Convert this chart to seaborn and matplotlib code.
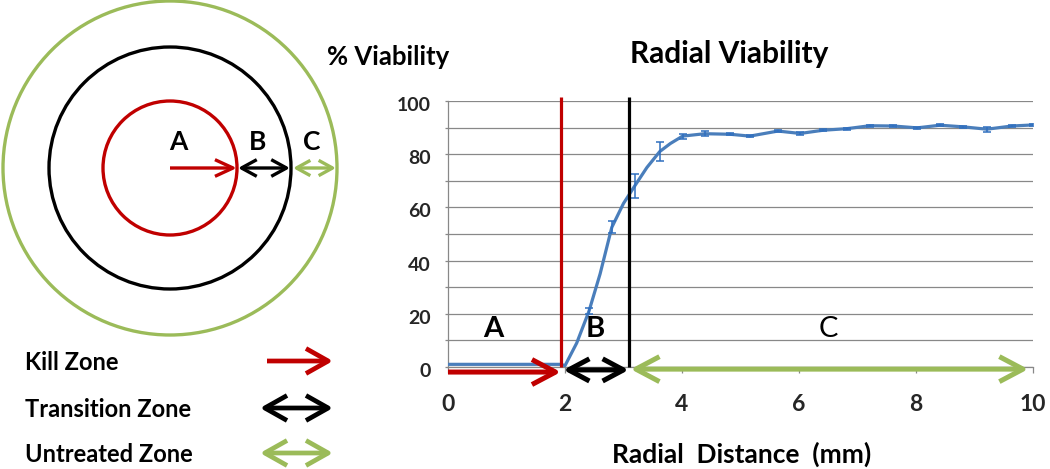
import numpy as np
import matplotlib
import matplotlib.pyplot as plt
import matplotlib.transforms as mtransforms
from matplotlib.patches import Circle, FancyArrowPatch
from matplotlib.ticker import MultipleLocator
import seaborn as sns

matplotlib.use('Agg')

# viability profile (mm, %)
radius_mm = [0.0, 1.93, 2.0, 2.2, 2.41, 2.6, 2.80, 3.0, 3.19, 3.4, 3.62, 3.8,
             4.01, 4.39, 4.82, 5.16, 5.64, 6.02, 6.41, 6.82, 7.21, 7.61,
             8.02, 8.41, 8.8, 9.21, 9.64, 10.0]
viability = [1.0, 1.0, 0.5, 9.0, 21.0, 35.0, 52.5, 61.5, 68.0, 75.0, 81.0, 84.0,
             86.8, 87.7, 87.5, 86.8, 88.7, 87.8, 89.0, 89.6, 90.7, 90.6,
             89.9, 90.9, 90.3, 89.4, 90.6, 91.0]
viability_err = [np.nan, np.nan, np.nan, np.nan, 1.2, np.nan, 2.3, np.nan, 4.4, np.nan, 3.6, np.nan,
                 0.9, 0.9, 0.4, 0.3, 0.3, 0.5, 0.4, 0.4, 0.4, 0.4,
                 0.4, 0.4, 0.3, 1.0, 0.4, 0.3]

# zone boundaries (mm)
kill_edge = 1.93
transition_edge = 3.09
profile_end = 9.92

zone_letters = ['A', 'B', 'C']
zone_letter_x = [0.77, 2.51, 6.5]
legend_labels = ['Kill Zone', 'Transition Zone', 'Untreated Zone']

# schematic rings (pixels)
ring_radii = [67, 121, 167]

RED = '#C00000'
BLACK = '#000000'
GREEN = '#9BBB59'
BLUE = '#4A7EBB'
ERR = '#2F6FBF'
GRID = '#888888'

sns.set_theme(style='white')
plt.rcParams['font.family'] = ['Lato', 'DejaVu Sans']
plt.rcParams['font.weight'] = 'bold'
plt.rcParams['text.color'] = 'black'

W, H = 1050, 469
fig = plt.figure(figsize=(W / 100, H / 100), dpi=100)


def arrow(a, p0, p1, color, lw, style, hl, hw):
    a.add_patch(FancyArrowPatch(p0, p1, arrowstyle=f'{style},head_length={hl},head_width={hw}',
                                color=color, lw=lw, shrinkA=0, shrinkB=0, mutation_scale=1,
                                clip_on=False, capstyle='butt', joinstyle='round', zorder=5))


# ---- schematic + legend, drawn in pixel units ----
bg = fig.add_axes([0, 0, 1, 1], zorder=0)
bg.set_xlim(0, W)
bg.set_ylim(H, 0)
bg.axis('off')

cx, cy = 170, 168
for r, c in zip(ring_radii, [RED, BLACK, GREEN]):
    bg.add_patch(Circle((cx, cy), r, fill=False, ec=c, lw=2.4))

r_kill, r_trans, r_out = ring_radii
arrow(bg, (cx, cy), (cx + r_kill, cy), RED, 2.4, '->', 13, 6)
arrow(bg, (cx + r_kill + 1, cy), (cx + r_trans - 1, cy), BLACK, 2.4, '<->', 11, 6)
arrow(bg, (cx + r_trans + 2, cy), (cx + r_out - 1, cy), GREEN, 2.4, '<->', 10, 5.5)
for lab, x in zip(zone_letters, [178, 258, 312]):
    bg.text(x, 150, lab, ha='center', va='baseline', fontsize=19, fontweight='bold')

leg_y = [366, 413, 458]
leg_style = ['->', '<->', '<->']
for lab, y, c, st in zip(legend_labels, leg_y, [RED, BLACK, GREEN], leg_style):
    bg.text(25, y + 4, lab, ha='left', va='baseline', fontsize=17, fontweight='bold')
    x0 = 267 if st == '->' else 260
    arrow(bg, (x0, y - 5), (333, y - 5), c, 3.4, st, 16, 9)

bg.text(388, 65, '% Viability', ha='center', va='baseline', fontsize=18.5, fontweight='bold')
bg.text(729, 63, 'Radial Viability', ha='center', va='baseline', fontsize=21.5, fontweight='bold')
bg.text(742, 463, 'Radial  Distance  (mm)', ha='center', va='baseline', fontsize=19, fontweight='bold')

# ---- viability chart ----
ax = fig.add_axes([448 / W, (H - 367) / H, 585 / W, 266 / H], zorder=1)
ax.patch.set_alpha(0)
ax.set_xlim(0, 10)
ax.set_ylim(0, 100)

ax.yaxis.set_major_locator(MultipleLocator(20))
ax.yaxis.set_minor_locator(MultipleLocator(10))
ax.xaxis.set_major_locator(MultipleLocator(2))
ax.grid(axis='y', which='both', color=GRID, lw=0.9)
ax.grid(axis='x', visible=False)
for s in ['top', 'right']:
    ax.spines[s].set_visible(False)
for s in ['left', 'bottom']:
    ax.spines[s].set_color(GRID)
    ax.spines[s].set_linewidth(0.9)

ax.tick_params(axis='y', which='both', direction='out', length=2.2, width=0.9, color=GRID, left=True,
               pad=10, labelsize=14)
ax.tick_params(axis='x', direction='out', length=4.5, width=0.9, color=GRID, bottom=True,
               pad=15, labelsize=16.5)
for lab in ax.get_yticklabels():
    lab.set_fontweight('bold')
    lab.set_transform(lab.get_transform() + mtransforms.ScaledTranslation(0, -0.03, fig.dpi_scale_trans))
for lab in ax.get_xticklabels():
    lab.set_fontweight('bold')

sns.lineplot(x=radius_mm, y=viability, ax=ax, color=BLUE, lw=2.3, sort=False, zorder=3)
ax.errorbar(radius_mm, viability, yerr=viability_err, fmt='none', ecolor=ERR,
            elinewidth=1.1, capsize=3.2, capthick=1.1, zorder=4)

ax.vlines(kill_edge, 0, 101.5, color=RED, lw=2.3, clip_on=False, zorder=4)
ax.vlines(transition_edge, 0, 101.5, color=BLACK, lw=2.3, clip_on=False, zorder=4)

arrow(ax, (0, -1.9), (kill_edge, -1.9), RED, 3.6, '->', 17, 9)
arrow(ax, (kill_edge + 0.04, -1.1), (transition_edge, -1.1), BLACK, 3.6, '<->', 15, 8)
arrow(ax, (transition_edge + 0.03, -0.8), (profile_end, -0.8), GREEN, 3.6, '<->', 17, 9)

for lab, x in zip(zone_letters, zone_letter_x):
    ax.text(x, 11.3, lab, ha='center', va='baseline', fontsize=21,
            fontweight='normal' if lab == 'C' else 'bold')

ax.set_xlabel('')
ax.set_ylabel('')

fig.savefig('out.png', dpi=100)
